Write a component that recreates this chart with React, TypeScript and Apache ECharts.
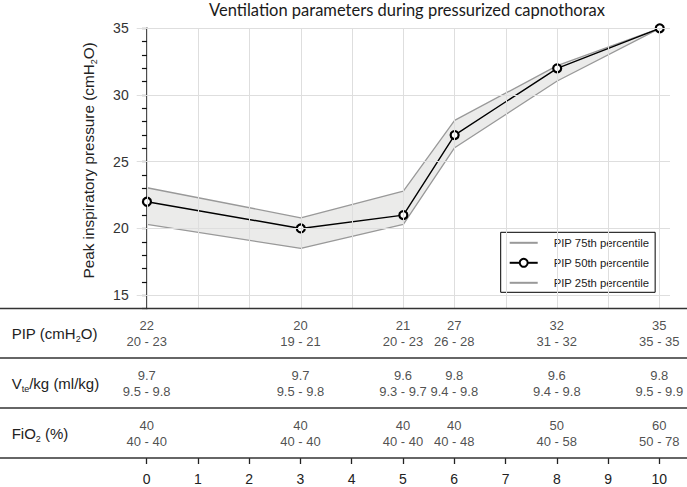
import React, { useEffect, useRef } from "react";
import * as echarts from "echarts";

// ---- data ----
const xVals = [0, 3, 5, 6, 8, 10];
const pipMedian = [22, 20, 21, 27, 32, 35];
const pip75 = [23.05, 20.8, 22.8, 28.1, 32.2, 35];
const pip25 = [20.3, 18.5, 20.3, 26.05, 31.05, 35];

const pipMed = [22, 20, 21, 27, 32, 35];
const pipLo = [20, 19, 20, 26, 31, 35];
const pipHi = [23, 21, 23, 28, 32, 35];
const vteMed = [9.7, 9.7, 9.6, 9.8, 9.6, 9.8];
const vteLo = [9.5, 9.5, 9.3, 9.4, 9.4, 9.5];
const vteHi = [9.8, 9.8, 9.7, 9.8, 9.8, 9.9];
const fioMed = [40, 40, 40, 40, 50, 60];
const fioLo = [40, 40, 40, 40, 40, 50];
const fioHi = [40, 40, 40, 48, 58, 78];

const rowKeys = ["fio", "vte", "pip"]; // bottom to top
const rowLabels: Record<string, string> = {
  pip: "{n|PIP (cmH}{s|2}{n|O)}",
  vte: "{n|V}{s|te}{n|/kg (ml/kg)}",
  fio: "{n|FiO}{s|2}{n| (%)}",
};

const yGrid = [15, 20, 25, 30, 35];
const xGrid = [0, 1, 2, 3, 4, 5, 6, 7, 8, 9, 10];

const titleText = "Ventilation parameters during pressurized capnothorax";
const yName = "{n|Peak inspiratory pressure (cmH}{s|2}{n|O)}";
const legendNames = ["PIP 75th percentile", "PIP 50th percentile", "PIP 25th percentile"];

const FONT = "'Liberation Sans', Arial, sans-serif";

export default function App() {
  const ref = useRef<HTMLDivElement>(null);
  useEffect(() => {
    if (!ref.current) return;
    const chart = echarts.init(ref.current, undefined, { renderer: "svg" });

    const tableSeries = (
      key: string,
      med: number[],
      lo: number[],
      hi: number[],
      digits: number
    ) => ({
      type: "scatter",
      xAxisIndex: 1,
      yAxisIndex: 1,
      symbolSize: 1,
      itemStyle: { color: "transparent" },
      silent: true,
      data: xVals.map((x) => [x, key]),
      label: {
        show: true,
        position: "inside",
        fontSize: 13,
        lineHeight: 16,
        color: "#222",
        fontFamily: FONT,
        formatter: (p: any) => {
          const i = p.dataIndex;
          return `${med[i].toFixed(digits)}\n${lo[i].toFixed(digits)} - ${hi[i].toFixed(digits)}`;
        },
      },
    });

    const hiddenSym = { opacity: 0, color: "transparent", borderWidth: 0 };

    const option: any = {
      animation: false,
      textStyle: { fontFamily: FONT },
      title: {
        text: titleText,
        left: 209,
        top: 1,
        padding: 0,
        textStyle: {
          fontFamily: "Lato, 'Liberation Sans', sans-serif",
          fontSize: 16.5,
          fontWeight: "normal",
          color: "#1a1a1a",
        },
      },
      legend: {
        data: [
          { name: legendNames[0], itemStyle: hiddenSym },
          { name: legendNames[1] },
          { name: legendNames[2], itemStyle: hiddenSym },
        ],
        orient: "vertical",
        left: 500.7,
        top: 232.3,
        padding: [5, 6, 4, 8],
        itemWidth: 28,
        itemHeight: 10,
        itemGap: 9,
        borderColor: "#000",
        borderWidth: 1,
        backgroundColor: "#fff",
        textStyle: { fontSize: 11.3, color: "#222", padding: [0, 0, 0, 11] },
      },
      grid: [
        { left: 136.7, right: 17, top: 28.3, height: 280.2 },
        { left: 146.7, right: 27.7, top: 308.5, height: 149.5 },
      ],
      xAxis: [
        { type: "value", gridIndex: 0, min: -0.2, max: 10.2, show: false },
        {
          type: "value",
          gridIndex: 1,
          min: 0,
          max: 10,
          interval: 1,
          axisLine: { show: false },
          axisTick: { show: true, length: 6, lineStyle: { color: "#222", width: 1.3 } },
          axisLabel: { fontSize: 14, color: "#222", margin: 14 },
          splitLine: { show: false },
        },
      ],
      yAxis: [
        {
          type: "value",
          gridIndex: 0,
          min: 14,
          max: 35,
          interval: 1,
          name: yName,
          nameLocation: "middle",
          nameGap: 38,
          nameTextStyle: {
            padding: [0, 0, 0, 16],
            rich: {
              n: { fontSize: 15.3, color: "#222", lineHeight: 20, fontFamily: FONT },
              s: { fontSize: 9, color: "#222", lineHeight: 9, verticalAlign: "bottom", fontFamily: FONT },
            },
          },
          axisLine: { show: true, lineStyle: { color: "#111", width: 1.5 } },
          axisTick: { show: true, length: 5, lineStyle: { color: "#111", width: 1.2 } },
          axisLabel: {
            fontSize: 14,
            color: "#333",
            margin: 8,
            formatter: (v: number) => (v % 5 === 0 ? String(v) : ""),
          },
          splitLine: { show: false },
        },
        {
          type: "category",
          gridIndex: 1,
          data: rowKeys,
          axisLine: { show: false },
          axisTick: { show: false },
          splitLine: { show: false },
          axisLabel: {
            align: "left",
            margin: 135,
            formatter: (v: string) => rowLabels[v],
            rich: {
              n: { fontSize: 15, color: "#222", lineHeight: 20, fontFamily: FONT },
              s: { fontSize: 9, color: "#222", lineHeight: 9, verticalAlign: "bottom", fontFamily: FONT },
            },
          },
        },
      ],
      graphic: [
        ...[308.5, 358, 408, 458].map((y) => ({
          type: "line",
          shape: { x1: 0, y1: y, x2: 687, y2: y },
          style: { stroke: "#333", lineWidth: 1.4 },
          z: 10,
          silent: true,
        })),
      ],
      series: [
        {
          name: "grid",
          type: "line",
          xAxisIndex: 0,
          yAxisIndex: 0,
          z: 0,
          data: [],
          silent: true,
          markLine: {
            silent: true,
            symbol: ["none", "none"],
            label: { show: false },
            lineStyle: { color: "#dedede", width: 1, type: "solid" },
            data: [...yGrid.map((v) => ({ yAxis: v })), ...xGrid.map((v) => ({ xAxis: v }))],
          },
        },
        {
          name: "band",
          type: "custom",
          xAxisIndex: 0,
          yAxisIndex: 0,
          z: 1,
          silent: true,
          data: xVals.map((x, i) => [x, pip25[i], pip75[i]]),
          encode: { x: 0, y: [1, 2] },
          renderItem: (params: any, api: any) => {
            if (params.dataIndex !== 0) return null;
            const upper = xVals.map((x, i) => api.coord([x, pip75[i]]));
            const lower = xVals.map((x, i) => api.coord([x, pip25[i]])).reverse();
            return {
              type: "polygon",
              shape: { points: upper.concat(lower) },
              style: { fill: "#ebebea", stroke: "none" },
            };
          },
        },
        {
          name: legendNames[0],
          type: "line",
          xAxisIndex: 0,
          yAxisIndex: 0,
          z: 2,
          symbol: "none",
          lineStyle: { color: "#999", width: 1.3 },
          itemStyle: { color: "#999" },
          data: xVals.map((x, i) => [x, pip75[i]]),
        },
        {
          name: legendNames[2],
          type: "line",
          xAxisIndex: 0,
          yAxisIndex: 0,
          z: 2,
          symbol: "none",
          lineStyle: { color: "#999", width: 1.3 },
          itemStyle: { color: "#999" },
          data: xVals.map((x, i) => [x, pip25[i]]),
        },
        {
          name: legendNames[1],
          type: "line",
          xAxisIndex: 0,
          yAxisIndex: 0,
          z: 3,
          symbol: "circle",
          symbolSize: 8,
          lineStyle: { color: "#000", width: 1.4 },
          itemStyle: { color: "#fff", borderColor: "#000", borderWidth: 2.2 },
          data: xVals.map((x, i) => [x, pipMedian[i]]),
        },
        tableSeries("pip", pipMed, pipLo, pipHi, 0),
        tableSeries("vte", vteMed, vteLo, vteHi, 1),
        tableSeries("fio", fioMed, fioLo, fioHi, 0),
      ],
    };
    chart.setOption(option);
    return () => chart.dispose();
  }, []);
  return (
    <div
      ref={ref}
      style={{ position: "fixed", left: 0, top: 0, width: 687, height: 487, background: "#fff" }}
    />
  );
}
